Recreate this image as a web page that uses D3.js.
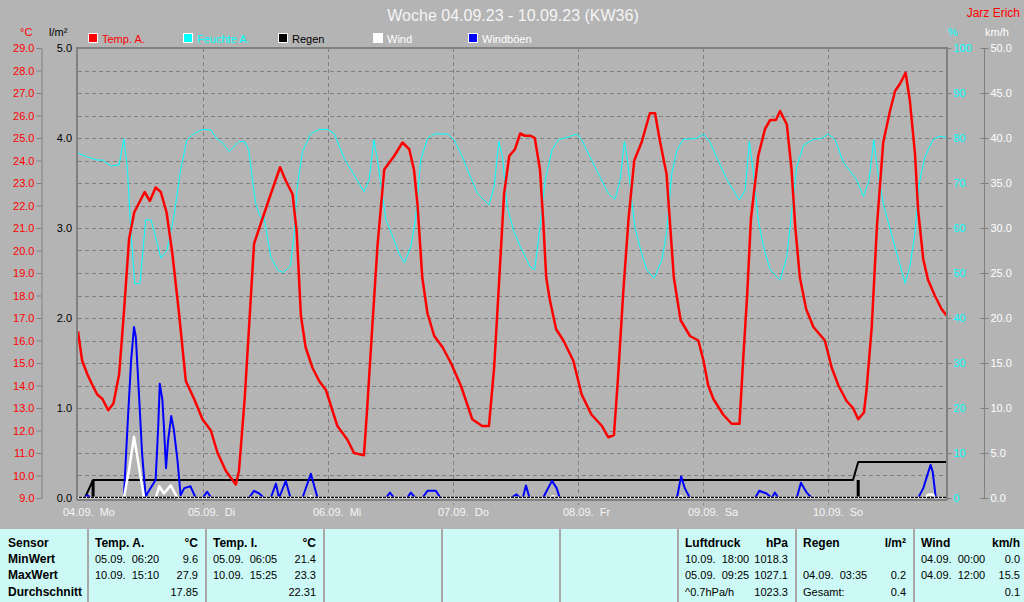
<!DOCTYPE html>
<html>
<head>
<meta charset="utf-8">
<script src="https://cdn.jsdelivr.net/npm/d3@7"></script>
<style>
  body { margin: 0; background: #b4b4b4; }
  svg { display: block; font-family: "Liberation Sans", Arial, sans-serif; }
  text { white-space: pre; }
</style>
</head>
<body>
<div id="chart"></div>
<script>
// hours since 04.09. 00:00, value
var tempA = [[0,16.4],[0.8,15.1],[1.8,14.5],[2.8,14.0],[3.7,13.6],[4.7,13.4],[5.8,12.9],[6.8,13.2],[7.9,14.5],[8.8,17.2],[9.8,20.5],[10.8,21.7],[12.8,22.6],[13.8,22.2],[14.9,22.8],[15.9,22.6],[17.0,21.7],[18.1,19.9],[19.4,17.2],[20.7,14.2],[22.3,13.4],[23.9,12.5],[25.5,12.0],[26.8,11.0],[28.4,10.2],[30.3,9.6],[30.9,10.2],[32.0,13.4],[33.0,17.2],[33.8,20.3],[35.1,21.2],[37.0,22.5],[38.8,23.7],[39.9,23.1],[41.2,22.5],[42.0,20.8],[42.8,17.1],[43.7,15.7],[45.0,14.8],[46.3,14.2],[47.6,13.8],[49.8,12.2],[51.7,11.6],[53.0,11.0],[54.9,10.9],[55.5,12.9],[56.5,16.6],[57.5,20.2],[58.8,23.6],[60.7,24.2],[62.3,24.8],[63.6,24.5],[64.5,23.6],[65.2,22.0],[66.1,18.8],[67.1,17.2],[68.4,16.2],[70.0,15.7],[71.6,15.0],[73.5,14.0],[75.7,12.5],[77.6,12.2],[78.9,12.2],[79.9,14.8],[80.8,18.4],[81.8,22.5],[82.8,24.2],[83.9,24.5],[84.9,25.2],[85.8,25.1],[86.9,25.1],[87.7,25.0],[88.7,23.6],[89.3,21.4],[89.9,18.8],[90.6,17.8],[91.8,16.5],[93.2,16.0],[95.1,15.1],[96.7,13.6],[98.6,12.7],[100.6,12.2],[101.8,11.7],[102.9,11.8],[103.7,14.4],[104.7,18.2],[105.7,21.4],[106.8,24.0],[108.2,24.8],[109.8,26.1],[110.8,26.1],[111.7,24.9],[113.0,23.4],[113.7,21.1],[114.4,18.8],[115.7,16.9],[117.5,16.2],[119.1,16.0],[120.1,15.1],[121.0,14.0],[122.0,13.4],[123.9,12.7],[125.5,12.3],[127.0,12.3],[127.7,15.1],[128.5,18.1],[129.2,21.4],[130.6,24.2],[131.9,25.4],[132.9,25.8],[134.0,25.8],[134.8,26.2],[136.1,25.6],[137.0,23.6],[137.7,21.1],[138.6,18.8],[139.8,17.4],[141.2,16.6],[143.4,16.0],[144.7,14.8],[146.0,14.0],[147.6,13.3],[148.8,13.0],[149.8,12.5],[150.9,12.8],[151.4,13.8],[152.4,16.6],[153.4,21.1],[154.6,24.8],[155.9,26.2],[156.9,27.1],[157.8,27.4],[158.9,27.9],[159.7,26.7],[160.7,24.3],[161.3,21.8],[162.3,19.6],[163.2,18.7],[164.5,18.0],[165.8,17.4],[166.8,17.1]];

var humA = [[0,76.6],[1.8,75.8],[3.7,75.1],[4.7,75.1],[6.3,73.8],[7.9,74.0],[8.8,79.9],[9.5,72.9],[10.1,60.3],[10.9,47.6],[11.9,47.7],[13.0,61.8],[14.0,61.8],[14.9,58.1],[15.9,53.3],[17.1,55.1],[18.4,62.5],[19.7,72.9],[20.9,79.6],[22.3,81.0],[23.9,81.9],[25.5,81.8],[26.8,79.6],[27.7,79.0],[29.0,77.0],[30.9,79.2],[32.0,79.2],[32.8,77.3],[33.5,70.7],[34.1,65.5],[35.1,62.2],[35.7,62.5],[37.0,53.6],[38.3,50.7],[39.4,50.1],[40.8,51.6],[41.5,58.8],[42.1,69.2],[43.1,77.0],[44.7,81.0],[46.3,81.9],[47.9,81.9],[49.2,81.0],[51.1,75.5],[53.0,71.8],[54.9,68.1],[55.9,70.7],[56.8,79.6],[57.5,75.1],[58.4,67.7],[59.1,61.8],[60.7,57.3],[61.6,54.4],[62.7,52.3],[63.9,55.9],[64.8,61.8],[65.8,75.1],[67.1,79.9],[68.4,80.9],[70.9,80.9],[72.2,79.6],[73.8,75.8],[75.1,72.1],[76.7,67.7],[78.9,65.1],[79.9,69.2],[80.8,79.2],[81.5,75.8],[82.4,64.7],[83.7,59.2],[84.9,55.9],[86.8,51.4],[87.7,50.8],[88.7,60.3],[89.7,70.7],[91.0,77.3],[92.2,79.6],[93.8,80.1],[95.8,80.9],[96.7,79.6],[98.3,75.8],[100.2,71.4],[101.8,67.7],[103.1,66.4],[104.1,70.7],[104.9,79.2],[105.5,75.1],[106.3,66.2],[106.9,60.3],[108.2,54.4],[109.2,50.7],[110.6,48.8],[112.1,52.9],[113.0,58.8],[114.0,72.1],[115.0,77.3],[116.2,79.7],[118.8,79.9],[120.1,80.9],[121.3,79.2],[122.6,75.8],[124.6,70.7],[127.0,66.2],[128.1,68.4],[128.9,79.2],[129.7,72.1],[130.6,61.8],[131.6,55.9],[132.9,50.7],[134.8,48.4],[136.1,53.6],[137.0,63.3],[138.0,73.6],[139.3,78.4],[141.2,79.7],[142.8,79.9],[144.1,80.9],[145.4,79.6],[146.9,74.7],[149.5,70.7],[150.8,67.0],[151.9,70.7],[152.8,79.6],[153.4,73.6],[154.6,65.5],[156.5,57.3],[158.8,47.7],[159.7,51.4],[160.7,58.8],[161.5,69.9],[162.6,75.8],[164.2,79.7],[165.5,80.4],[166.8,80.1]];

var gusts = [[0,0],[1.3,0],[1.8,0.3],[2.5,0],[8.8,0],[9.5,7.9],[10.2,15.3],[10.75,19.0],[11.1,17.9],[11.7,11.6],[12.3,5.0],[13.0,0.1],[13.3,0.5],[14.9,2.0],[15.4,7.9],[15.7,12.7],[16.2,10.9],[16.5,7.9],[16.9,3.3],[17.3,6.4],[17.9,9.1],[18.4,7.6],[19.1,4.2],[19.7,0.3],[20.4,1.1],[21.6,1.3],[22.6,0],[23.9,0],[24.8,0.7],[25.6,0],[32.8,0],[33.8,0.8],[34.8,0.5],[35.7,0],[37.0,0],[38.0,1.6],[38.6,0],[39.9,1.9],[40.8,0],[43.1,0],[44.7,2.7],[46.0,0],[59.1,0],[59.9,0.6],[60.7,0],[63.2,0],[63.9,0.6],[64.8,0],[66.1,0],[67.1,0.8],[68.7,0.8],[69.6,0],[83.1,0],[84.2,0.4],[84.9,0],[85.4,0],[86.0,1.4],[86.7,0],[89.3,0],[90.0,0.8],[91.0,1.9],[91.9,1.1],[92.5,0],[115.0,0],[115.8,2.4],[116.5,1.1],[117.5,0],[130.0,0],[130.8,0.8],[132.2,0.5],[133.2,0],[133.8,0.6],[134.5,0],[138.0,0],[138.8,1.7],[139.9,0.6],[140.9,0],[161.3,0],[162.3,1.1],[163.0,2.4],[163.7,3.7],[164.1,2.9],[164.7,0],[166.8,0]];

var wind = [[0,0],[8.8,0],[9.8,3.1],[10.75,6.8],[11.7,3.5],[12.7,0],[14.9,0],[15.6,1.3],[16.5,0.5],[17.8,1.4],[19.1,0],[44.2,0],[44.7,0.2],[45.2,0],[90.6,0],[91.2,0.2],[91.8,0],[115.3,0],[115.8,0.2],[116.3,0],[162.7,0],[163.3,0.4],[164.1,0.4],[164.5,0],[166.8,0]];

var rainSum = [[0,0],[1.3,0],[2.9,0.2],[148.8,0.2],[149.8,0.4],[166.8,0.4]];
var rainBars = [[2.9,0.2],[149.8,0.2]];

var dayLabels = ["04.09.  Mo","05.09.  Di","06.09.  Mi","07.09.  Do","08.09.  Fr","09.09.  Sa","10.09.  So"];
var tempTicks = d3.range(9, 30, 1);
var rainTicks = [0, 1, 2, 3, 4, 5];
var humTicks = d3.range(0, 101, 10);
var windTicks = d3.range(0, 51, 5);

var legendNames = ["Temp. A.", "Feuchte A.", "Regen", "Wind", "Windböen"];
var legendColors = ["#ff0000", "#00ffff", "#000000", "#ffffff", "#0000ff"];
var legendText = ["#ff0000", "#00ffff", "#000000", "#ffffff", "#ffffff"];

var rowLabels = ["Sensor", "MinWert", "MaxWert", "Durchschnitt"];
var tableHeaders = ["Temp. A.", "Temp. I.", "Luftdruck", "Regen", "Wind"];
var tableUnits = ["°C", "°C", "hPa", "l/m²", "km/h"];
var tableCells = [
  [["05.09.  06:20", "9.6"], ["10.09.  15:10", "27.9"], ["", "17.85"]],
  [["05.09.  06:05", "21.4"], ["10.09.  15:25", "23.3"], ["", "22.31"]],
  [["10.09.  18:00", "1018.3"], ["05.09.  09:25", "1027.1"], ["^0.7hPa/h", "1023.3"]],
  [["", ""], ["04.09.  03:35", "0.2"], ["Gesamt:", "0.4"]],
  [["04.09.  00:00", "0.0"], ["04.09.  12:00", "15.5"], ["", "0.1"]]
];

var W = 1024, H = 602;
var pL = 78, pR = 946, pT = 48, pB = 498;
var grey = "#808080";

var svg = d3.select("#chart").append("svg").attr("width", W).attr("height", H);
svg.append("rect").attr("width", W).attr("height", H).attr("fill", "#b4b4b4");

var x = d3.scaleLinear().domain([0, 168]).range([pL, pL + 875]);
var yT = d3.scaleLinear().domain([9, 29]).range([pB, pT]);
var yR = d3.scaleLinear().domain([0, 5]).range([pB, pT]);
var yH = d3.scaleLinear().domain([0, 100]).range([pB, pT]);
var yW = d3.scaleLinear().domain([0, 50]).range([pB, pT]);

// title
svg.append("text").attr("x", 513).attr("y", 21).attr("text-anchor", "middle")
  .attr("font-size", 16).attr("fill", "#f4f4f4").text("Woche 04.09.23 - 10.09.23 (KW36)");
svg.append("text").attr("x", 1020).attr("y", 17).attr("text-anchor", "end")
  .attr("font-size", 12).attr("fill", "#ff0000").text("Jarz Erich");

// unit labels
svg.append("text").attr("x", 20).attr("y", 36).attr("font-size", 11).attr("fill", "#ff0000").text("°C");
svg.append("text").attr("x", 49).attr("y", 36).attr("font-size", 11).attr("fill", "#000").text("l/m²");
svg.append("text").attr("x", 948).attr("y", 36).attr("font-size", 11).attr("fill", "#00ffff").text("%");
svg.append("text").attr("x", 985).attr("y", 36).attr("font-size", 11).attr("fill", "#ffffff").text("km/h");

// legend
var lg = svg.append("g").selectAll("g").data(legendNames).enter().append("g")
  .attr("transform", function(d, i) { return "translate(" + (88 + i * 95) + ",33)"; });
lg.append("rect").attr("width", 9).attr("height", 9).attr("x", 0.5).attr("y", 0.5)
  .attr("fill", function(d, i) { return legendColors[i]; })
  .attr("stroke", "#fff").attr("stroke-width", 1);
lg.append("text").attr("x", 14).attr("y", 9.5).attr("font-size", 11)
  .attr("fill", function(d, i) { return legendText[i]; }).text(function(d) { return d; });

// grid
var grid = svg.append("g").attr("stroke", grey).attr("stroke-dasharray", "4,3").attr("stroke-width", 1);
grid.selectAll("line.h").data(tempTicks.slice(1, -1)).enter().append("line")
  .attr("x1", pL).attr("x2", pR)
  .attr("y1", function(d) { return Math.round(yT(d)) + 0.5; })
  .attr("y2", function(d) { return Math.round(yT(d)) + 0.5; });
grid.selectAll("line.v").data(d3.range(1, 7)).enter().append("line")
  .attr("y1", pT).attr("y2", 505)
  .attr("x1", function(d) { return Math.round(x(d * 24)) + 0.5; })
  .attr("x2", function(d) { return Math.round(x(d * 24)) + 0.5; });

// day labels
svg.append("g").selectAll("text").data(dayLabels).enter().append("text")
  .attr("x", function(d, i) { return x(i * 24) - 15; })
  .attr("y", 516).attr("font-size", 11).attr("fill", "#f4f4f4")
  .text(function(d) { return d; });

// axes
function styleAxis(g, color, showDomain) {
  g.selectAll(".tick line").attr("stroke", grey);
  g.selectAll(".tick text").attr("fill", color).attr("font-size", 11)
    .attr("font-family", "Liberation Sans, Arial, sans-serif");
  g.select(".domain").attr("stroke", grey).attr("display", showDomain ? null : "none");
}
var gT = svg.append("g").attr("transform", "translate(41.5,0)")
  .call(d3.axisLeft(yT).tickValues(tempTicks).tickFormat(d3.format(".1f")).tickSize(5).tickSizeOuter(0).tickPadding(2));
styleAxis(gT, "#ff0000", true);

var gR = svg.append("g").attr("transform", "translate(74,0)")
  .call(d3.axisLeft(yR).tickValues(rainTicks).tickFormat(d3.format(".1f")).tickSize(0).tickPadding(2));
styleAxis(gR, "#000000", false);

var gH = svg.append("g").attr("transform", "translate(946.5,0)")
  .call(d3.axisRight(yH).tickValues(humTicks).tickFormat(d3.format("d")).tickSize(5).tickPadding(2));
styleAxis(gH, "#00ffff", false);

var gW = svg.append("g").attr("transform", "translate(980.5,0)")
  .call(d3.axisRight(yW).tickValues(windTicks).tickFormat(d3.format(".1f")).tickSize(8).tickPadding(2));
styleAxis(gW, "#ffffff", false);
svg.append("line").attr("x1", 984.5).attr("x2", 984.5).attr("y1", pT).attr("y2", pB).attr("stroke", grey);

// plot clip
svg.append("clipPath").attr("id", "clip").append("rect")
  .attr("x", pL).attr("y", pT).attr("width", pR - pL).attr("height", pB - pT + 1);
var plot = svg.append("g").attr("clip-path", "url(#clip)");

function series(data, ys, color, width) {
  var line = d3.line().x(function(d) { return x(d[0]); }).y(function(d) { return ys(d[1]); });
  plot.append("path").datum(data).attr("d", line).attr("fill", "none")
    .attr("stroke", color).attr("stroke-width", width).attr("stroke-linejoin", "round");
}

series(humA, yH, "#00ffff", 1);
series(rainSum, yR, "#000000", 2);
plot.selectAll("rect.rain").data(rainBars).enter().append("rect")
  .attr("x", function(d) { return x(d[0]) - 1.5; }).attr("width", 3)
  .attr("y", function(d) { return yR(d[1]); })
  .attr("height", function(d) { return yR(0) - yR(d[1]); })
  .attr("fill", "#000");
series(tempA, yT, "#ff0000", 2.5);
series(gusts, yW, "#0000ff", 2);
series(wind, yW, "#ffffff", 2.5);

// baseline
plot.append("line").attr("x1", pL).attr("x2", pR).attr("y1", 497.5).attr("y2", 497.5)
  .attr("stroke", "#000").attr("stroke-width", 1.5);
plot.append("line").attr("x1", pL).attr("x2", pR).attr("y1", 497.5).attr("y2", 497.5)
  .attr("stroke", "#fff").attr("stroke-width", 1.5).attr("stroke-dasharray", "1,3");

// frame
var frame = svg.append("g").attr("stroke", grey).attr("stroke-width", 2).attr("fill", "none");
frame.append("path").attr("d", "M" + (pL - 1) + "," + 500 + "V" + pT + "H" + (pR + 1) + "V" + 500);
frame.append("line").attr("x1", pL - 1).attr("x2", pR + 1).attr("y1", 500).attr("y2", 500);

// table
var ty = 529;
svg.append("rect").attr("x", 0).attr("y", ty).attr("width", W).attr("height", H - ty).attr("fill", "#ccf9f5");
var sepX = [88, 206, 324, 442, 560, 678, 796, 914];
svg.append("g").selectAll("line").data(sepX).enter().append("line")
  .attr("x1", function(d) { return d; }).attr("x2", function(d) { return d; })
  .attr("y1", ty).attr("y2", H).attr("stroke", "#a8a8a8").attr("stroke-width", 2);

var rowY = [547, 563, 579, 596];
svg.append("g").selectAll("text").data(rowLabels).enter().append("text")
  .attr("x", 8).attr("y", function(d, i) { return rowY[i]; })
  .attr("font-size", 12).attr("font-weight", "bold").attr("fill", "#000").text(function(d) { return d; });

var colSep = [0, 1, 5, 6, 7];
tableHeaders.forEach(function(h, c) {
  var x0 = sepX[colSep[c]] + 7;
  var x1 = c === 4 ? 1020 : sepX[colSep[c] + 1] - 8;
  var g = svg.append("g");
  g.append("text").attr("x", x0).attr("y", rowY[0]).attr("font-size", 12).attr("font-weight", "bold").text(h);
  g.append("text").attr("x", x1).attr("y", rowY[0]).attr("font-size", 12).attr("font-weight", "bold")
    .attr("text-anchor", "end").text(tableUnits[c]);
  tableCells[c].forEach(function(cell, r) {
    g.append("text").attr("x", x0).attr("y", rowY[r + 1]).attr("font-size", 11).text(cell[0]);
    g.append("text").attr("x", x1).attr("y", rowY[r + 1]).attr("font-size", 11)
      .attr("text-anchor", "end").text(cell[1]);
  });
});
</script>
</body>
</html>
